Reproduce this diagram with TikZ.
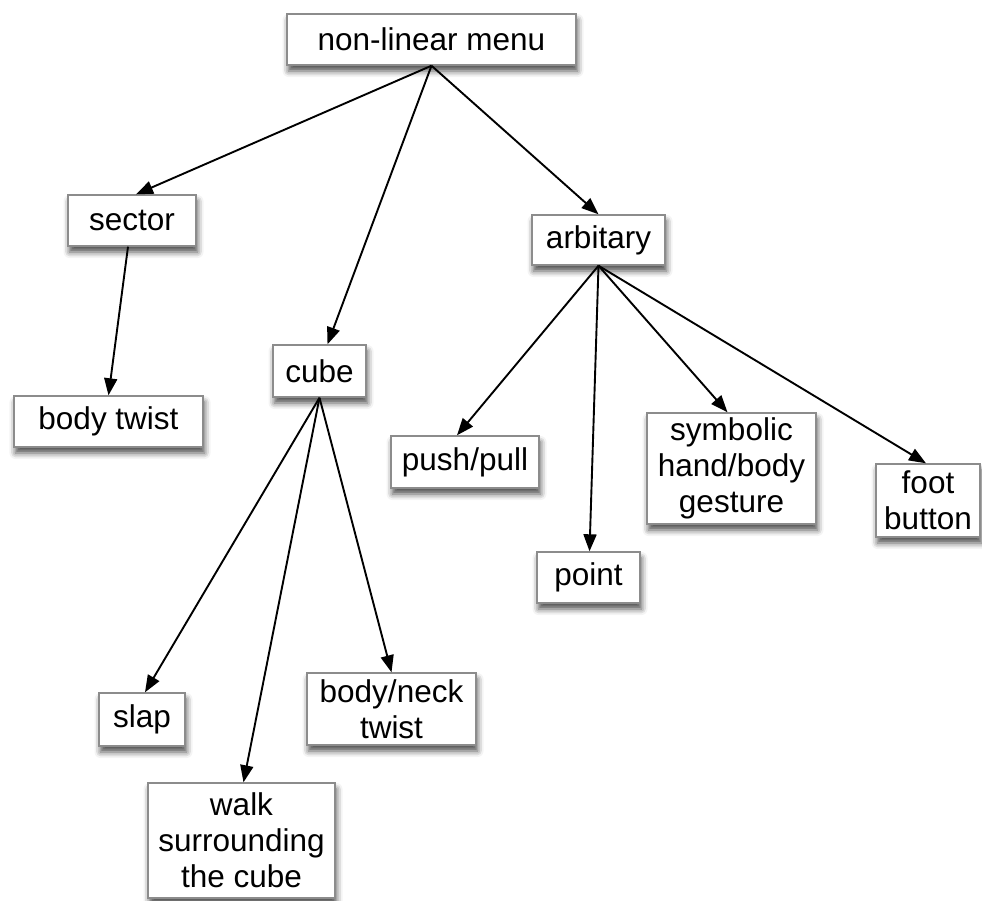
\documentclass[tikz,border=0pt]{standalone}
\usepackage{fontspec}
\setmainfont{Liberation Sans}
\usetikzlibrary{arrows.meta,shadows.blur}

\tikzset{
  box/.style={draw=black!45, line width=1.4pt, fill=white, inner sep=0pt,
    align=center, font=\fontsize{31.5}{36}\selectfont,
    blur shadow={shadow xshift=1.5pt, shadow yshift=-6pt,
      shadow blur radius=6pt, shadow opacity=70}},
  arr/.style={line width=1.9pt, -{Triangle[length=17pt,width=13pt]}}
}

\begin{document}
\begin{tikzpicture}[x=1pt,y=-1pt]
\useasboundingbox (0,0) rectangle (982,900);

% boxes
\node[box, minimum width=289pt, minimum height=51pt] (menu) at (431.5,39.5) {non-linear menu};
\node[box, minimum width=128pt, minimum height=51pt] (sector) at (132,220.5) {sector};
\node[box, minimum width=189pt, minimum height=51pt] (btwist) at (108.5,421.5) {body twist};
\node[box, minimum width=93pt, minimum height=52pt] (cube) at (319.5,371) {cube};
\node[box, minimum width=133pt, minimum height=50pt] (arb) at (598.5,240) {arbitary};
\node[box, minimum width=148pt, minimum height=52pt] (push) at (465,462) {push/pull};
\node[box, minimum width=103pt, minimum height=51pt] (point) at (588.5,577.5) {point};
\node[box, minimum width=169pt, minimum height=111pt] (sym) at (731.5,468.5) {symbolic\\hand/body\\gesture};
\node[box, minimum width=104pt, minimum height=73pt] (foot) at (928,500.5) {foot\\button};
\node[box, minimum width=86pt, minimum height=53pt] (slap) at (142,719.5) {slap};
\node[box, minimum width=169pt, minimum height=72pt] (neck) at (391.5,709) {body/neck\\twist};
\node[box, minimum width=187pt, minimum height=115pt] (walk) at (241.5,840.5) {walk\\surrounding\\the cube};

% connectors
\draw[arr] (menu.south) -- ([xshift=4pt]sector.north);
\draw[arr] (menu.south) -- ([xshift=8pt]cube.north);
\draw[arr] (menu.south) -- (arb.north);
\draw[arr] ([xshift=-4pt]sector.south) -- (btwist.north);
\draw[arr] (cube.south) -- ([xshift=3pt]slap.north);
\draw[arr] (cube.south) -- ([xshift=2pt]walk.north);
\draw[arr] (cube.south) -- (neck.north);
\draw[arr] (arb.south) -- ([xshift=-8pt]push.north);
\draw[arr] (arb.south) -- ([xshift=1pt]point.north);
\draw[arr] (arb.south) -- ([xshift=-4pt]sym.north);
\draw[arr] (arb.south) -- ([xshift=-2pt]foot.north);
\end{tikzpicture}
\end{document}
